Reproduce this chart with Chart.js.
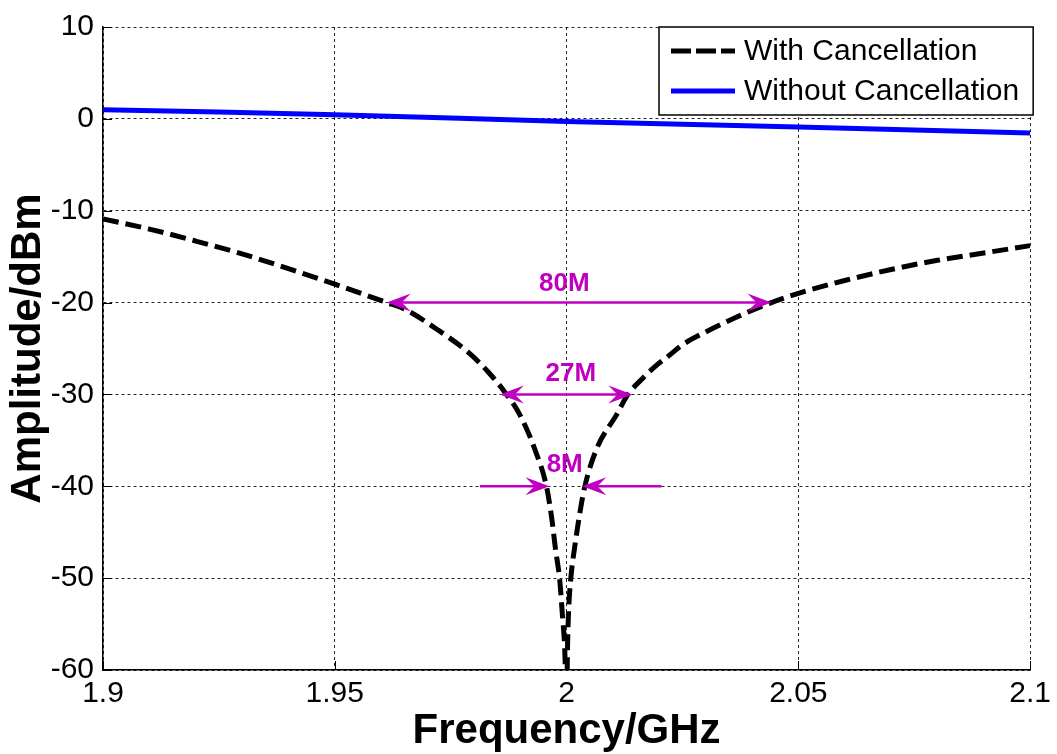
<!DOCTYPE html>
<html>
<head>
<meta charset="utf-8">
<script src="https://cdn.jsdelivr.net/npm/chart.js@4.4.1/dist/chart.umd.min.js"></script>
<style>
  html, body { margin: 0; padding: 0; background: #fff; }
  #wrap { width: 1057px; height: 754px; }
</style>
</head>
<body>
<div id="wrap"><canvas id="notchChart" width="1057" height="754"></canvas></div>
<script>
// ---- data ----
var freq_with = [1.900, 1.910, 1.920, 1.930, 1.940, 1.950, 1.9612, 1.965, 1.972, 1.979, 1.983, 1.9866, 1.9899, 1.9931, 1.9957, 1.9968, 1.9976, 1.9985, 1.9991, 1.9996, 2.0000, 2.0002, 2.0004, 2.0009, 2.0017, 2.0028, 2.0039, 2.0065, 2.0108, 2.0131, 2.0165, 2.0190, 2.0220, 2.0250, 2.0300, 2.0366, 2.0442, 2.0500, 2.0600, 2.0700, 2.0800, 2.0900, 2.1000];
var amp_with = [-10.9, -12.0, -13.3, -14.7, -16.3, -18.0, -20.0, -20.7, -22.9, -25.5, -27.5, -29.7, -32.2, -35.9, -40.1, -43.5, -46.8, -50.1, -54.0, -57.7, -64.0, -57.7, -54.0, -50.1, -46.8, -43.1, -40.1, -35.9, -32.2, -30.1, -28.2, -27.0, -25.8, -24.6, -23.2, -21.6, -20.0, -19.0, -17.6, -16.4, -15.4, -14.6, -13.8];

var freq_without = [1.900, 1.925, 1.950, 1.975, 2.000, 2.025, 2.050, 2.075, 2.100];
var amp_without = [1.0, 0.75, 0.45, 0.1, -0.3, -0.6, -0.9, -1.2, -1.55];

var x_ticks = [1.9, 1.95, 2, 2.05, 2.1];
var y_ticks = [10, 0, -10, -20, -30, -40, -50, -60];

// bandwidth markers (data units)
var bw_labels = ["80M", "27M", "8M"];
var bw_level = [-20, -30, -40];
var bw_from = [1.9612, 1.9856, 1.9963];
var bw_to = [2.0442, 2.0142, 2.0034];
var bw_inward = [false, false, true];
var bw_tail_left = [null, null, 1.9813];
var bw_tail_right = [null, null, 2.0205];
var bw_label_x = [1.9995, 2.0009, 1.9996];
var bw_label_y = [-18.0, -27.8, -37.7];

var FONT = "'Liberation Sans', Arial, sans-serif";
var MAGENTA = "#C000C0";

function toPoints(xs, ys) {
    return xs.map((x, i) => ({ x: x, y: ys[i] }));
}

function arrowHead(ctx, tipX, tipY, dir) {
    // dir = 1 points right, -1 points left
    var len = 24, half = 9, notch = 15;
    ctx.beginPath();
    ctx.moveTo(tipX, tipY);
    ctx.lineTo(tipX - dir * len, tipY - half);
    ctx.lineTo(tipX - dir * notch, tipY);
    ctx.lineTo(tipX - dir * len, tipY + half);
    ctx.closePath();
    ctx.fill();
}

var bandwidthPlugin = {
    id: "bandwidth",
    afterDatasetsDraw(chart) {
        var ctx = chart.ctx;
        var xs = chart.scales.x, ys = chart.scales.y;
        ctx.save();
        ctx.strokeStyle = MAGENTA;
        ctx.fillStyle = MAGENTA;
        ctx.lineWidth = 2.5;
        for (var i = 0; i < bw_labels.length; i++) {
            var y = ys.getPixelForValue(bw_level[i]);
            var x1 = xs.getPixelForValue(bw_from[i]);
            var x2 = xs.getPixelForValue(bw_to[i]);
            if (!bw_inward[i]) {
                ctx.beginPath();
                ctx.moveTo(x1 + 10, y);
                ctx.lineTo(x2 - 10, y);
                ctx.stroke();
                arrowHead(ctx, x1, y, -1);
                arrowHead(ctx, x2, y, 1);
            } else {
                var t1 = xs.getPixelForValue(bw_tail_left[i]);
                var t2 = xs.getPixelForValue(bw_tail_right[i]);
                ctx.beginPath();
                ctx.moveTo(t1, y);
                ctx.lineTo(x1 - 10, y);
                ctx.moveTo(t2, y);
                ctx.lineTo(x2 + 10, y);
                ctx.stroke();
                arrowHead(ctx, x1, y, 1);
                arrowHead(ctx, x2, y, -1);
            }
            ctx.font = "bold 26px " + FONT;
            ctx.textAlign = "center";
            ctx.textBaseline = "middle";
            ctx.fillText(bw_labels[i], xs.getPixelForValue(bw_label_x[i]), ys.getPixelForValue(bw_label_y[i]));
        }
        ctx.restore();
    }
};

var frameLegendPlugin = {
    id: "frameLegend",
    afterDraw(chart) {
        var ctx = chart.ctx;
        var area = chart.chartArea;
        var xs = chart.scales.x, ys = chart.scales.y;
        ctx.save();
        // small inward tick marks on left and bottom axes
        ctx.strokeStyle = "#000";
        ctx.lineWidth = 1;
        ctx.beginPath();
        ys.ticks.forEach((t) => {
            var py = Math.round(ys.getPixelForValue(t.value)) + 0.5;
            ctx.moveTo(area.left, py);
            ctx.lineTo(area.left + 9, py);
        });
        xs.ticks.forEach((t) => {
            var px = Math.round(xs.getPixelForValue(t.value)) + 0.5;
            ctx.moveTo(px, area.bottom);
            ctx.lineTo(px, area.bottom - 9);
        });
        ctx.stroke();

        // legend box in the top right corner
        ctx.font = "30px " + FONT;
        var sets = chart.data.datasets;
        var textW = Math.max.apply(null, sets.map((d) => ctx.measureText(d.label).width));
        var boxRight = area.right + 3;
        var boxLeft = boxRight - (12 + 64 + 9 + textW + 14);
        var boxTop = area.top;
        var boxH = 88;
        ctx.fillStyle = "#fff";
        ctx.fillRect(boxLeft, boxTop, boxRight - boxLeft, boxH);
        ctx.strokeStyle = "#000";
        ctx.lineWidth = 1.5;
        ctx.strokeRect(boxLeft, boxTop, boxRight - boxLeft, boxH);
        sets.forEach((d, i) => {
            var cy = boxTop + 24 + i * 40;
            ctx.beginPath();
            ctx.strokeStyle = d.borderColor;
            ctx.lineWidth = d.borderWidth;
            ctx.setLineDash(d.borderDash && d.borderDash.length ? [20, 5] : []);
            ctx.moveTo(boxLeft + 12, cy);
            ctx.lineTo(boxLeft + 76, cy);
            ctx.stroke();
            ctx.setLineDash([]);
            ctx.fillStyle = "#000";
            ctx.textAlign = "left";
            ctx.textBaseline = "middle";
            ctx.fillText(d.label, boxLeft + 85, cy + 1);
        });
        ctx.restore();
    }
};

var ctx = document.getElementById("notchChart").getContext("2d");

new Chart(ctx, {
    type: "line",
    data: {
        datasets: [
            {
                label: "With Cancellation",
                data: toPoints(freq_with, amp_with),
                borderColor: "#000000",
                borderWidth: 5,
                borderDash: [16, 7],
                pointRadius: 0,
                cubicInterpolationMode: "monotone",
                fill: false,
            },
            {
                label: "Without Cancellation",
                data: toPoints(freq_without, amp_without),
                borderColor: "#0000FF",
                borderWidth: 5,
                pointRadius: 0,
                tension: 0,
                fill: false,
            },
        ],
    },
    options: {
        responsive: false,
        animation: false,
        layout: { padding: { left: 0, top: 25, right: 26, bottom: 0 } },
        plugins: {
            legend: { display: false },
            tooltip: { enabled: false },
        },
        scales: {
            x: {
                type: "linear",
                min: 1.9,
                max: 2.1,
                afterBuildTicks: (s) => { s.ticks = x_ticks.map((v) => ({ value: v })); },
                afterFit: (s) => { s.height = 84; },
                ticks: {
                    color: "#000",
                    font: { family: FONT, size: 30 },
                    padding: 6,
                    maxRotation: 0,
                    callback: (v) => String(v),
                },
                grid: { color: "rgba(0,0,0,0.85)", lineWidth: 1, drawTicks: false },
                border: { display: true, color: "#000", width: 1.5, dash: [3, 3] },
                title: {
                    display: true,
                    text: "Frequency/GHz",
                    color: "#000",
                    font: { family: FONT, size: 42, weight: "bold", lineHeight: 1 },
                    padding: { top: 0, bottom: 2 },
                },
            },
            y: {
                min: -60,
                max: 10,
                afterBuildTicks: (s) => { s.ticks = y_ticks.map((v) => ({ value: v })); },
                afterFit: (s) => { s.width = 103; },
                ticks: {
                    color: "#000",
                    font: { family: FONT, size: 30 },
                    padding: 9,
                    callback: (v) => String(v),
                },
                grid: { color: "rgba(0,0,0,0.85)", lineWidth: 1, drawTicks: false },
                border: { display: true, color: "#000", width: 1.5, dash: [3, 3] },
                title: {
                    display: true,
                    text: "Amplitude/dBm",
                    color: "#000",
                    font: { family: FONT, size: 42, weight: "bold" },
                    padding: { top: 3, bottom: 0 },
                },
            },
        },
    },
    plugins: [bandwidthPlugin, frameLegendPlugin],
});
</script>
</body>
</html>
